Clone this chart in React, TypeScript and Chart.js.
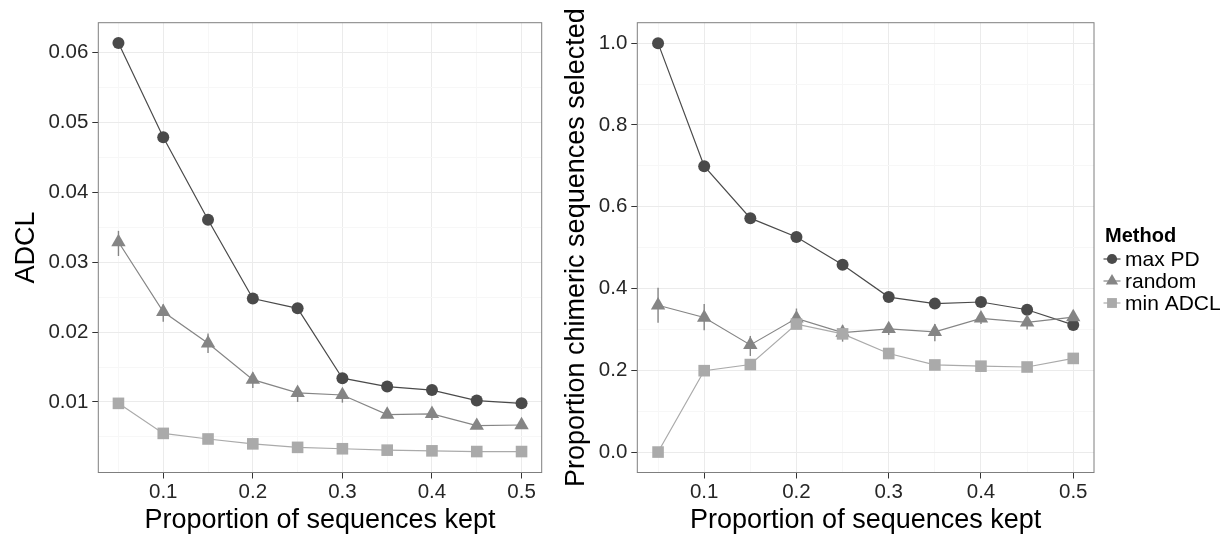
import React, { useEffect, useRef } from "react";
import { Chart, registerables } from "chart.js";

Chart.register(...registerables);

const FONT = "'Liberation Sans', Arial, Helvetica, sans-serif";

// ---------- data ----------
const proportionKept = [0.05, 0.1, 0.15, 0.2, 0.25, 0.3, 0.35, 0.4, 0.45, 0.5];
const methodNames = ["max PD", "random", "min ADCL"];

// Left panel: ADCL
const adclMaxPD = [0.0614, 0.0479, 0.0361, 0.0248, 0.0234, 0.0134, 0.0122, 0.0117, 0.0102, 0.0098];
const adclRandom = [0.0329, 0.0229, 0.0184, 0.0132, 0.0113, 0.011, 0.0082, 0.0083, 0.0066, 0.0067];
const adclRandomLow = [0.0309, 0.0215, 0.017, 0.012, 0.01, 0.0099, 0.0077, 0.0074, 0.0063, 0.0064];
const adclRandomHigh = [0.0345, 0.024, 0.0198, 0.0142, 0.0118, 0.0114, 0.0086, 0.009, 0.0069, 0.007];
const adclMinADCL = [0.0098, 0.0055, 0.0047, 0.004, 0.0035, 0.0033, 0.0031, 0.003, 0.0029, 0.0029];

// Right panel: proportion chimeric sequences selected
const chimMaxPD = [1.0, 0.699, 0.572, 0.526, 0.458, 0.379, 0.363, 0.367, 0.348, 0.311];
const chimRandom = [0.359, 0.329, 0.262, 0.327, 0.292, 0.301, 0.294, 0.327, 0.317, 0.33];
const chimRandomLow = [0.316, 0.298, 0.235, 0.307, 0.27, 0.286, 0.271, 0.313, 0.3, 0.318];
const chimRandomHigh = [0.402, 0.362, 0.284, 0.351, 0.311, 0.315, 0.313, 0.338, 0.33, 0.34];
const chimMinADCL = [0.0, 0.199, 0.214, 0.313, 0.289, 0.241, 0.213, 0.21, 0.208, 0.229];

// ticks
const xMajorTicks = [0.1, 0.2, 0.3, 0.4, 0.5];
const xMinorTicks = [0.05, 0.15, 0.25, 0.35, 0.45];
const xTickLabels = ["0.1", "0.2", "0.3", "0.4", "0.5"];

const adclMajorTicks = [0.01, 0.02, 0.03, 0.04, 0.05, 0.06];
const adclMinorTicks = [0.005, 0.015, 0.025, 0.035, 0.045, 0.055];
const adclTickLabels = ["0.01", "0.02", "0.03", "0.04", "0.05", "0.06"];

const chimMajorTicks = [0.0, 0.2, 0.4, 0.6, 0.8, 1.0];
const chimMinorTicks = [0.1, 0.3, 0.5, 0.7, 0.9];
const chimTickLabels = ["0.0", "0.2", "0.4", "0.6", "0.8", "1.0"];

// ---------- styles ----------
const methodColors = ["#4a4a4a", "#858585", "#aaaaaa"];
const methodShapes = ["circle", "triangle", "rect"];
const methodRadii = [6, 8.3, 8.2];

const majorGrid = "#ebebeb";
const minorGrid = "#f7f7f7";
const tickTextColor = "#262626";

function findIdx(v: number, arr: number[]) {
  for (let i = 0; i < arr.length; i++) if (Math.abs(arr[i] - v) < 1e-9) return i;
  return -1;
}

type PanelProps = {
  left: number;
  width: number;
  yTitle: string;
  series: number[][];
  errLow: number[];
  errHigh: number[];
  yMin: number;
  yMax: number;
  yMajor: number[];
  yMinor: number[];
  yLabels: string[];
  yAxisWidth: number;
  padRight: number;
  yTitlePad: number;
  legend: boolean;
};

function drawMarker(ctx: CanvasRenderingContext2D, shape: string, x: number, y: number, r: number) {
  ctx.beginPath();
  if (shape === "circle") {
    ctx.arc(x, y, r, 0, Math.PI * 2);
  } else if (shape === "triangle") {
    ctx.moveTo(x, y - r);
    ctx.lineTo(x + (r * Math.sqrt(3)) / 2, y + r / 2);
    ctx.lineTo(x - (r * Math.sqrt(3)) / 2, y + r / 2);
    ctx.closePath();
  } else {
    const s = r * Math.SQRT1_2;
    ctx.rect(x - s, y - s, 2 * s, 2 * s);
  }
  ctx.fill();
}

function Panel(p: PanelProps) {
  const ref = useRef<HTMLCanvasElement | null>(null);

  useEffect(() => {
    if (!ref.current) return;

    const errorBars = {
      id: "errorBars",
      beforeDatasetsDraw(chart: any) {
        const ctx = chart.ctx;
        const xs = chart.scales.x;
        const ys = chart.scales.y;
        ctx.save();
        ctx.strokeStyle = methodColors[1];
        ctx.lineWidth = 1.4;
        proportionKept.forEach((xv, i) => {
          const x = xs.getPixelForValue(xv);
          ctx.beginPath();
          ctx.moveTo(x, ys.getPixelForValue(p.errLow[i]));
          ctx.lineTo(x, ys.getPixelForValue(p.errHigh[i]));
          ctx.stroke();
        });
        ctx.restore();
      },
    };

    const panelBorder = {
      id: "panelBorder",
      afterDraw(chart: any) {
        const { left, top, right, bottom } = chart.chartArea;
        const ctx = chart.ctx;
        ctx.save();
        ctx.strokeStyle = "#7f7f7f";
        ctx.lineWidth = 1;
        ctx.strokeRect(left, top, right - left, bottom - top);
        ctx.restore();
      },
    };

    const legendPlugin = {
      id: "customLegend",
      afterDraw(chart: any) {
        if (!p.legend) return;
        const ctx = chart.ctx;
        const lx = 1112 - p.left;
        ctx.save();
        ctx.fillStyle = "#000";
        ctx.textBaseline = "middle";
        ctx.textAlign = "left";
        ctx.font = `bold 20px ${FONT}`;
        ctx.fillText("Method", 1105 - p.left, 236);
        ctx.font = `21px ${FONT}`;
        methodNames.forEach((name, i) => {
          const cy = 259 + i * 22;
          ctx.strokeStyle = methodColors[i];
          ctx.lineWidth = 1.2;
          ctx.beginPath();
          ctx.moveTo(lx - 8.5, cy);
          ctx.lineTo(lx + 8.5, cy);
          ctx.stroke();
          ctx.fillStyle = methodColors[i];
          drawMarker(ctx, methodShapes[i], lx, cy, methodRadii[i] * 0.85);
          ctx.fillStyle = "#000";
          ctx.fillText(name, 1125 - p.left, cy + 1);
        });
        ctx.restore();
      },
    };

    const gridColor = (major: number[]) => (c: any) =>
      c.tick && findIdx(c.tick.value, major) >= 0 ? majorGrid : minorGrid;
    const tickColor = (major: number[]) => (c: any) =>
      c.tick && findIdx(c.tick.value, major) >= 0 ? "#333333" : "rgba(0,0,0,0)";

    const datasets = p.series.map((vals, i) => ({
      label: methodNames[i],
      data: proportionKept.map((x, j) => ({ x, y: vals[j] })),
      borderColor: methodColors[i],
      backgroundColor: methodColors[i],
      pointBackgroundColor: methodColors[i],
      pointBorderColor: methodColors[i],
      pointBorderWidth: 0,
      borderWidth: 1.2,
      pointStyle: methodShapes[i],
      pointRadius: methodRadii[i],
      tension: 0,
      clip: false as any,
      order: 3 - i,
    }));

    const chart = new Chart(ref.current, {
      type: "line",
      data: { datasets },
      plugins: [errorBars, panelBorder, legendPlugin],
      options: {
        animation: false,
        responsive: false,
        events: [],
        layout: { padding: { top: 22.7, right: p.padRight, left: 0, bottom: 0 } },
        plugins: { legend: { display: false }, tooltip: { enabled: false } },
        scales: {
          x: {
            type: "linear",
            min: 0.0275,
            max: 0.5225,
            afterBuildTicks: (s: any) => {
              s.ticks = [...xMinorTicks, ...xMajorTicks].sort((a, b) => a - b).map((v) => ({ value: v }));
            },
            afterFit: (s: any) => {
              s.height = 65.5;
            },
            ticks: {
              autoSkip: false,
              maxRotation: 0,
              padding: 2,
              color: tickTextColor,
              font: { family: FONT, size: 20.5 },
              callback: (v: any) => {
                const i = findIdx(Number(v), xMajorTicks);
                return i >= 0 ? xTickLabels[i] : "";
              },
            },
            grid: {
              color: gridColor(xMajorTicks),
              tickColor: tickColor(xMajorTicks),
              lineWidth: 1,
              tickLength: 6,
              tickWidth: 1,
            },
            border: { display: false },
            title: {
              display: true,
              text: "Proportion of sequences kept",
              color: "#000",
              font: { family: FONT, size: 27, lineHeight: 1.2 },
              padding: { top: 0, bottom: 1 },
            },
          },
          y: {
            type: "linear",
            min: p.yMin,
            max: p.yMax,
            afterBuildTicks: (s: any) => {
              s.ticks = [...p.yMinor, ...p.yMajor].sort((a, b) => a - b).map((v) => ({ value: v }));
            },
            afterFit: (s: any) => {
              s.width = p.yAxisWidth;
            },
            ticks: {
              autoSkip: false,
              padding: 4,
              color: tickTextColor,
              font: { family: FONT, size: 20.5 },
              callback: (v: any) => {
                const i = findIdx(Number(v), p.yMajor);
                return i >= 0 ? p.yLabels[i] : "";
              },
            },
            grid: {
              color: gridColor(p.yMajor),
              tickColor: tickColor(p.yMajor),
              lineWidth: 1,
              tickLength: 6,
              tickWidth: 1,
            },
            border: { display: false },
            title: {
              display: true,
              text: p.yTitle,
              color: "#000",
              font: { family: FONT, size: 27, lineHeight: 1.2 },
              padding: { top: p.yTitlePad, bottom: 0 },
            },
          },
        },
      } as any,
    });

    return () => chart.destroy();
  }, []);

  return (
    <canvas
      ref={ref}
      width={p.width}
      height={538}
      style={{ position: "absolute", left: p.left, top: 0, width: p.width, height: 538 }}
    />
  );
}

export default function App() {
  return (
    <div style={{ position: "absolute", left: 0, top: 0, width: 1231, height: 538, background: "#fff" }}>
      <Panel
        left={0}
        width={560}
        yTitle="ADCL"
        series={[adclMaxPD, adclRandom, adclMinADCL]}
        errLow={adclRandomLow}
        errHigh={adclRandomHigh}
        yMin={-0.0001}
        yMax={0.0643}
        yMajor={adclMajorTicks}
        yMinor={adclMinorTicks}
        yLabels={adclTickLabels}
        yAxisWidth={98.3}
        padRight={18.3}
        yTitlePad={10}
        legend={false}
      />
      <Panel
        left={560}
        width={671}
        yTitle="Proportion chimeric sequences selected"
        series={[chimMaxPD, chimRandom, chimMinADCL]}
        errLow={chimRandomLow}
        errHigh={chimRandomHigh}
        yMin={-0.05}
        yMax={1.05}
        yMajor={chimMajorTicks}
        yMinor={chimMinorTicks}
        yLabels={chimTickLabels}
        yAxisWidth={77.3}
        padRight={137}
        yTitlePad={0}
        legend={true}
      />
    </div>
  );
}
